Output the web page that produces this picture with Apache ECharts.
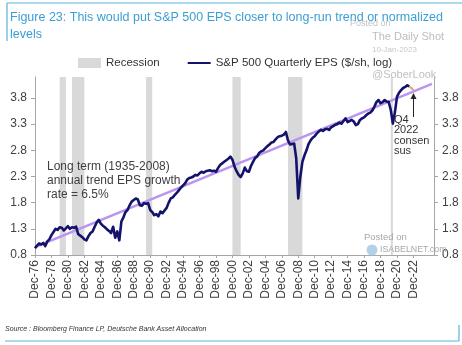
<!DOCTYPE html>
<html>
<head>
<meta charset="utf-8">
<script src="https://cdn.jsdelivr.net/npm/echarts@6/dist/echarts.min.js"></script>
<style>
  html, body { margin: 0; padding: 0; background: #fff; }
  #chart { width: 462px; height: 345px; }
</style>
</head>
<body>
<div id="chart"></div>
<script>
// Quarterly S&P 500 EPS, natural log, starting Dec-76 (one value per quarter)
const epsLog = [
  0.93,
  0.98, 1.02, 1.00, 1.03,   // 1977
  0.97, 1.06, 1.10, 1.18,   // 1978
  1.24, 1.30, 1.28, 1.33,   // 1979
  1.32, 1.27, 1.31, 1.35,   // 1980
  1.30, 1.33, 1.32, 1.34,   // 1981
  1.20, 1.17, 1.14, 1.10,   // 1982
  1.08, 1.16, 1.22, 1.25,   // 1983
  1.34, 1.42, 1.47, 1.40,   // 1984
  1.36, 1.33, 1.29, 1.26,   // 1985
  1.22, 1.34, 1.13, 1.25,   // 1986
  1.08, 1.44, 1.52, 1.62,   // 1987
  1.66, 1.75, 1.82, 1.85,   // 1988
  1.88, 1.86, 1.75, 1.74,   // 1989
  1.79, 1.78, 1.79, 1.66,   // 1990
  1.62, 1.56, 1.58, 1.54,   // 1991
  1.63, 1.60, 1.65, 1.70,   // 1992
  1.80, 1.88, 1.90, 1.95,   // 1993
  1.99, 2.04, 2.09, 2.13,   // 1994
  2.17, 2.24, 2.27, 2.28,   // 1995
  2.30, 2.33, 2.32, 2.36,   // 1996
  2.39, 2.37, 2.40, 2.41,   // 1997
  2.42, 2.40, 2.41, 2.39,   // 1998
  2.46, 2.52, 2.55, 2.58,   // 1999
  2.61, 2.64, 2.68, 2.62,   // 2000
  2.49, 2.40, 2.33, 2.29,   // 2001
  2.36, 2.47, 2.40, 2.39,   // 2002
  2.50, 2.58, 2.65, 2.68,   // 2003
  2.75, 2.78, 2.80, 2.84,   // 2004
  2.88, 2.91, 2.95, 2.96,   // 2005
  3.01, 3.05, 3.07, 3.08,   // 2006
  3.10, 3.15, 2.99, 2.91,   // 2007
  2.92, 2.93, 2.65, 1.88,   // 2008
  2.29, 2.58, 2.70, 2.80,   // 2009
  2.92, 2.99, 3.04, 3.07,   // 2010
  3.12, 3.16, 3.19, 3.17,   // 2011
  3.20, 3.21, 3.19, 3.24,   // 2012
  3.26, 3.29, 3.30, 3.33,   // 2013
  3.31, 3.36, 3.41, 3.34,   // 2014
  3.36, 3.38, 3.35, 3.28,   // 2015
  3.30, 3.38, 3.41, 3.43,   // 2016
  3.47, 3.50, 3.52, 3.56,   // 2017
  3.63, 3.72, 3.76, 3.70,   // 2018
  3.72, 3.76, 3.73, 3.72,   // 2019
  3.57, 3.31, 3.53, 3.82,   // 2020
  3.90, 3.95, 3.99, 4.01,   // 2021
  4.04, 4.02                // 2022 H1
];

// Consensus path from the last reported quarter to Q4 2022
const consensusQuarters = ['Jun-22', 'Sep-22', 'Dec-22'];
const consensusLog = [4.02, 3.99, 3.95];

// Long-run trend line endpoints (6.5% annual growth)
const trendQuarters = ['Dec-76', 'Mar-25'];
const trendLog = [0.95, 4.07];

// Recession periods
const recessions = [
  ['Dec-79', 'Sep-80'],
  ['Jun-81', 'Dec-82'],
  ['Jun-90', 'Mar-91'],
  ['Dec-00', 'Dec-01'],
  ['Sep-07', 'Jun-09'],
  ['Mar-20', 'Jun-20']
];

// Y ticks
const yMin = 0.8, yMax = 4.2, yStep = 0.5;

// Quarter-end category labels, Dec-76 through Jun-25
const months = ['Mar', 'Jun', 'Sep', 'Dec'];
const quarters = [];
for (let y = 1976; y <= 2025; y++) {
  for (let q = 0; q < 4; q++) {
    if (y === 1976 && q < 3) continue;
    if (y === 2025 && q > 1) continue;
    quarters.push(months[q] + '-' + String(y % 100).padStart(2, '0'));
  }
}
const lastLabel = quarters.indexOf('Dec-22');
const showTick = i => i % 8 === 0 && i <= lastLabel;

const epsName = 'S&P 500 Quarterly EPS ($/sh, log)';
const FONT = 'Liberation Sans, Arial, sans-serif';

const chart = echarts.init(document.getElementById('chart'), null, { renderer: 'canvas' });

const yAxisBase = {
  type: 'value', min: yMin, max: yMax, interval: yStep,
  axisLine: { show: true, lineStyle: { color: '#a6a6a6', width: 1 } },
  axisTick: { show: true, length: 4, lineStyle: { color: '#a6a6a6' } },
  splitLine: { show: false },
  axisLabel: {
    showMaxLabel: false, color: '#404040', fontSize: 12, fontFamily: FONT,
    formatter: v => v.toFixed(1)
  }
};

chart.setOption({
  animation: false,
  backgroundColor: '#ffffff',
  grid: { left: 35, right: 28, top: 77, bottom: 90, containLabel: false },
  legend: {
    left: 78, top: 57, padding: 0,
    itemWidth: 23, itemHeight: 10, itemGap: 27,
    textStyle: { color: '#333', fontSize: 11.5, fontFamily: FONT },
    data: [
      { name: 'Recession', icon: 'rect' },
      { name: epsName, itemStyle: { opacity: 0 } }
    ],
    selectedMode: false
  },
  xAxis: {
    type: 'category', data: quarters, boundaryGap: false,
    axisLine: { lineStyle: { color: '#a6a6a6' } },
    axisTick: { show: true, length: 3, interval: showTick, lineStyle: { color: '#a6a6a6' } },
    axisLabel: {
      interval: showTick, rotate: 90, margin: 5,
      color: '#404040', fontSize: 12, fontFamily: FONT
    },
    splitLine: { show: false }
  },
  yAxis: [
    Object.assign({}, yAxisBase, { position: 'left' }),
    Object.assign({}, yAxisBase, { position: 'right' })
  ],
  series: [
    {
      name: 'Recession', type: 'line', data: [], z: 0, symbol: 'none',
      itemStyle: { color: '#d9d9d9' },
      lineStyle: { color: '#d9d9d9' },
      markArea: {
        silent: true,
        itemStyle: { color: '#d9d9d9' },
        data: recessions.map(r => [{ xAxis: r[0] }, { xAxis: r[1] }])
      }
    },
    {
      name: 'Trend', type: 'line', z: 2, symbol: 'none', silent: true,
      data: trendQuarters.map((q, i) => [q, trendLog[i]]),
      lineStyle: { color: '#b994f0', width: 2.5 }
    },
    {
      name: epsName, type: 'line', z: 3, symbol: 'none',
      data: epsLog,
      itemStyle: { color: '#13136b' },
      lineStyle: { color: '#13136b', width: 2.6, join: 'round' }
    },
    {
      name: 'Consensus', type: 'line', z: 3, symbol: 'none',
      data: consensusQuarters.map((q, i) => [q, consensusLog[i]]),
      lineStyle: { color: '#e3a25c', width: 2 }
    }
  ]
});

// Arrow pointing at the Q4 2022 consensus value
const tip = chart.convertToPixel({ xAxisIndex: 0, yAxisIndex: 0 }, ['Dec-22', consensusLog[2]]);
const tipX = Math.round(tip[0]) + 0.5, tipY = tip[1] + 3;

chart.setOption({
  graphic: [
    // frame lines
    { type: 'line', shape: { x1: 7, y1: 3, x2: 462, y2: 3 }, style: { stroke: '#5cb3de', lineWidth: 1.2 }, silent: true },
    { type: 'line', shape: { x1: 7, y1: 3, x2: 7, y2: 41 }, style: { stroke: '#5cb3de', lineWidth: 1.2 }, silent: true },
    { type: 'line', shape: { x1: 5, y1: 341, x2: 459, y2: 341 }, style: { stroke: '#5cb3de', lineWidth: 1.2 }, silent: true },
    { type: 'line', shape: { x1: 459, y1: 325, x2: 459, y2: 341 }, style: { stroke: '#5cb3de', lineWidth: 1.2 }, silent: true },
    // title
    { type: 'text', left: 10, top: 9, silent: true,
      style: { text: 'Figure 23: This would put S&P 500 EPS closer to long-run trend or normalized\nlevels',
        fill: '#3a9fd2', font: '12.5px ' + FONT, lineHeight: 17 } },
    // credits
    { type: 'text', left: 350, top: 19, silent: true, z: 10,
      style: { text: 'Posted on', fill: '#c4c4c4', font: '9px ' + FONT } },
    { type: 'text', left: 372, top: 31, silent: true, z: 10,
      style: { text: 'The Daily Shot', fill: '#bdbdbd', font: '11px ' + FONT } },
    { type: 'text', left: 372, top: 46, silent: true, z: 10,
      style: { text: '10-Jan-2023', fill: '#c8c8c8', font: '8px ' + FONT } },
    { type: 'text', left: 372, top: 69, silent: true, z: 10,
      style: { text: '@SoberLook', fill: '#c0c0c0', font: '11px ' + FONT } },
    { type: 'text', left: 364, top: 232, silent: true, z: 10,
      style: { text: 'Posted on', fill: '#a8a8a8', font: '9.5px ' + FONT } },
    { type: 'circle', shape: { cx: 372, cy: 250, r: 5.5 }, silent: true, z: 10,
      style: { fill: '#9fc7e3', opacity: 0.8 } },
    { type: 'text', left: 380, top: 245, silent: true, z: 10,
      style: { text: 'ISABELNET.com', fill: '#a8a8a8', font: '8.8px ' + FONT } },
    // trend annotation
    { type: 'text', left: 47, top: 160, silent: true, z: 10,
      style: { text: 'Long term (1935-2008)\nannual trend EPS growth\nrate = 6.5%',
        fill: '#404040', font: '12px ' + FONT, lineHeight: 14 } },
    // consensus annotation + arrow
    { type: 'text', left: 394, top: 114, silent: true, z: 10,
      style: { text: 'Q4\n2022\nconsen\nsus', fill: '#333', font: '11px ' + FONT, lineHeight: 10.5 } },
    { type: 'line', shape: { x1: tipX, y1: 117, x2: tipX, y2: tipY + 4 }, silent: true, z: 10,
      style: { stroke: '#222', lineWidth: 1 } },
    { type: 'polygon', shape: { points: [[tipX, tipY], [tipX - 3, tipY + 6], [tipX + 3, tipY + 6]] }, silent: true, z: 10,
      style: { fill: '#222' } },
    // source
    { type: 'text', left: 5, top: 326, silent: true,
      style: { text: 'Source : Bloomberg Finance LP, Deutsche Bank Asset Allocation',
        fill: '#333', font: 'italic 7px ' + FONT } }
  ]
});
</script>
</body>
</html>
